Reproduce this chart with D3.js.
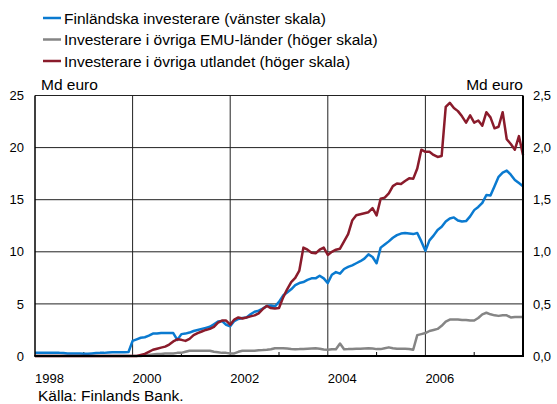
<!DOCTYPE html>
<html>
  <head>
    <meta charset="utf-8">
    <title>Investerare</title>
    <script src="https://d3js.org/d3.v7.min.js"></script>
    <style>
      body { margin: 0; background: #fff; }
      svg { display: block; }
      text { font-family: "Liberation Sans", Arial, sans-serif; fill: #000; }
      .tick text, .year { font-size: 13px; }
      .legend text, .unit, .source { font-size: 15.5px; }
      .grid line { stroke: #222; stroke-width: 1; }
      .series { fill: none; stroke-width: 2.5; stroke-linejoin: round; }
    </style>
  </head>
  <body>
    <svg id="chart" width="557" height="404"></svg>
    <script>
      // data: monthly, Jan 1998 .. Jan 2008
      startYear = 1998;
      // Finnish investors, left scale (Md euro)
      finnish = [
        0.3, 0.3, 0.3, 0.3, 0.3, 0.3, 0.3, 0.28, 0.25, 0.25, 0.25, 0.25,
        0.22, 0.22, 0.25, 0.28, 0.3, 0.3, 0.33, 0.35, 0.35, 0.35, 0.35, 0.38,
        1.45, 1.6, 1.75, 1.8, 1.95, 2.15, 2.15, 2.2, 2.2, 2.2, 2.2, 1.55,
        2.1, 2.15, 2.25, 2.4, 2.5, 2.6, 2.7, 2.8, 3.05, 3.3, 3.35, 3.0,
        2.85, 3.35, 3.55, 3.65, 3.7, 4.0, 4.25, 4.35, 4.55, 4.8, 4.85, 4.75,
        5.2, 5.8, 6.1, 6.4, 6.8, 7.0, 7.1, 7.3, 7.45, 7.45, 7.7, 7.45,
        7.0, 7.8, 8.05, 7.9, 8.35, 8.55, 8.7, 8.9, 9.1, 9.35, 9.75, 9.5,
        8.9, 10.4, 10.7, 11.0, 11.35, 11.6, 11.75, 11.8, 11.75, 11.7, 11.8, 11.0,
        10.1, 11.1, 11.55, 12.1, 12.4, 12.9, 13.2, 13.3, 13.0, 12.9, 12.95, 13.4,
        14.0, 14.3, 14.7, 15.45, 15.4, 16.3, 17.2, 17.6, 17.8, 17.4, 16.9, 16.6,
        16.3
      ];
      // investors in other EMU countries, right scale
      emu = [
        0, 0, 0, 0, 0, 0, 0, 0, 0, 0, 0, 0,
        0, 0, 0, 0, 0, 0, 0, 0, 0, 0, 0, 0,
        0, 0, 0, 0.005, 0.01, 0.015, 0.02, 0.02, 0.025, 0.025, 0.025, 0.03,
        0.03, 0.04, 0.05, 0.05, 0.05, 0.05, 0.05, 0.05, 0.04, 0.035, 0.03, 0.03,
        0.025, 0.025, 0.04, 0.05, 0.05, 0.05, 0.05, 0.055, 0.057, 0.06, 0.065, 0.075,
        0.075, 0.075, 0.072, 0.068, 0.065, 0.066, 0.068, 0.07, 0.072, 0.074, 0.07, 0.062,
        0.06, 0.065, 0.065, 0.12, 0.065, 0.066, 0.068, 0.07, 0.07, 0.072, 0.074, 0.072,
        0.066, 0.066, 0.075, 0.083, 0.075, 0.07, 0.07, 0.07, 0.068, 0.06, 0.2, 0.21,
        0.22, 0.24, 0.25, 0.26, 0.29, 0.33, 0.35, 0.35, 0.35, 0.345, 0.345, 0.34,
        0.34, 0.365, 0.4, 0.415, 0.4, 0.39, 0.385, 0.39, 0.39, 0.37, 0.375, 0.375,
        0.375
      ];
      // investors in rest of world, right scale
      abroad = [
        0, 0, 0, 0, 0, 0, 0, 0, 0, 0, 0, 0,
        0, 0, 0, 0, 0, 0, 0, 0, 0, 0, 0, 0,
        0, 0, 0.01, 0.02, 0.04, 0.06, 0.07, 0.08, 0.09, 0.11, 0.14, 0.16,
        0.155, 0.145, 0.165, 0.2, 0.22, 0.235, 0.25, 0.26, 0.28, 0.32, 0.34, 0.34,
        0.3, 0.35, 0.37, 0.36, 0.37, 0.38, 0.39, 0.41, 0.45, 0.48, 0.46, 0.455,
        0.46, 0.56, 0.64, 0.71, 0.75, 0.82, 1.04, 1.02, 0.99, 0.985, 1.02, 1.04,
        0.97, 1.0, 1.02, 1.03, 1.1, 1.17, 1.3, 1.35, 1.36, 1.37, 1.38, 1.42,
        1.35, 1.51, 1.52, 1.56, 1.63, 1.655, 1.65, 1.68, 1.705, 1.7, 1.8, 1.98,
        1.96, 1.96, 1.93, 1.91, 1.92, 2.39, 2.43, 2.38, 2.35, 2.3, 2.24, 2.31,
        2.24, 2.26, 2.21, 2.34, 2.29, 2.185, 2.2, 2.34, 2.08, 2.035, 1.98, 2.11,
        1.93
      ];
      leftTicks = [0, 5, 10, 15, 20, 25];
      rightTicks = [0, 0.5, 1, 1.5, 2, 2.5];
      yearLabels = [1998, 2000, 2002, 2004, 2006];
      gridYears = [2000, 2002, 2004, 2006];
      minorYears = [1999, 2001, 2003, 2005, 2007];
      legendItems = [
        "Finländska investerare (vänster skala)",
        "Investerare i övriga EMU-länder (höger skala)",
        "Investerare i övriga utlandet (höger skala)"
      ];
      colors = ["#0a7ad0", "#858585", "#8a1b2b"];

      chart = d3.select("#chart");
      margin = { top: 95.5, right: 34, bottom: 48, left: 35 };
      width = 557;
      height = 404;

      x = d3.scaleLinear()
        .domain([1998, 2008])
        .range([margin.left, width - margin.right]);
      yLeft = d3.scaleLinear()
        .domain([0, 25])
        .range([height - margin.bottom, margin.top]);
      yRight = d3.scaleLinear()
        .domain([0, 2.5])
        .range([height - margin.bottom, margin.top]);

      // grid
      grid = chart.append("g").attr("class", "grid");
      grid.selectAll(".h")
        .data(leftTicks.slice(1))
        .enter().append("line")
          .attr("x1", x(1998)).attr("x2", x(2008))
          .attr("y1", function(d) { return yLeft(d); })
          .attr("y2", function(d) { return yLeft(d); });
      grid.selectAll(".v")
        .data(gridYears)
        .enter().append("line")
          .attr("x1", function(d) { return x(d); })
          .attr("x2", function(d) { return x(d); })
          .attr("y1", yLeft(0)).attr("y2", yLeft(25));

      // minor year ticks
      chart.append("g").selectAll("line")
        .data(minorYears)
        .enter().append("line")
          .attr("x1", function(d) { return x(d); })
          .attr("x2", function(d) { return x(d); })
          .attr("y1", yLeft(0)).attr("y2", yLeft(0) - 4)
          .attr("stroke", "#000");

      // axes
      leftAxis = d3.axisLeft(yLeft)
        .tickValues(leftTicks)
        .tickSize(0)
        .tickPadding(11);
      rightAxis = d3.axisRight(yRight)
        .tickValues(rightTicks)
        .tickSize(0)
        .tickPadding(10)
        .tickFormat(function(d) { return d3.format(".1f")(d).replace(".", ","); });
      chart.append("g")
        .attr("transform", "translate(" + margin.left + ",0)")
        .call(leftAxis);
      chart.append("g")
        .attr("transform", "translate(" + (width - margin.right) + ",0)")
        .call(rightAxis);
      chart.selectAll(".domain").remove();

      // bottom year labels, left aligned at year
      chart.append("g").selectAll("text")
        .data(yearLabels)
        .enter().append("text")
          .attr("class", "year")
          .attr("x", function(d) { return x(d); })
          .attr("y", yLeft(0) + 27)
          .text(function(d) { return d; });

      // series
      line = function(scale) {
        return d3.line()
          .x(function(d, i) { return x(startYear + i / 12); })
          .y(function(d) { return scale(d); });
      };
      chart.append("path").attr("class", "series")
        .attr("stroke", colors[1]).attr("d", line(yRight)(emu));
      chart.append("path").attr("class", "series")
        .attr("stroke", colors[0]).attr("d", line(yLeft)(finnish));
      chart.append("path").attr("class", "series")
        .attr("stroke", colors[2]).attr("d", line(yRight)(abroad));

      // frame
      frame = chart.append("g").attr("stroke", "#000").attr("fill", "none");
      frame.append("line")
        .attr("x1", x(1998)).attr("x2", x(1998))
        .attr("y1", yLeft(25)).attr("y2", yLeft(0)).attr("stroke-width", 1.5);
      frame.append("line")
        .attr("x1", x(2008)).attr("x2", x(2008))
        .attr("y1", yLeft(25)).attr("y2", yLeft(0)).attr("stroke-width", 2);
      frame.append("line")
        .attr("x1", x(1998) - 0.75).attr("x2", x(2008) + 1)
        .attr("y1", yLeft(0)).attr("y2", yLeft(0)).attr("stroke-width", 2);

      // units
      chart.append("text").attr("class", "unit")
        .attr("x", x(1998) + 6).attr("y", yLeft(25) - 6)
        .text("Md euro");
      chart.append("text").attr("class", "unit")
        .attr("x", x(2008)).attr("y", yLeft(25) - 6)
        .attr("text-anchor", "end")
        .text("Md euro");

      // legend
      legend = chart.append("g").attr("class", "legend");
      rows = legend.selectAll("g")
        .data(legendItems)
        .enter().append("g")
          .attr("transform", function(d, i) { return "translate(43," + (18 + i * 21.5) + ")"; });
      rows.append("line")
        .attr("x1", 0).attr("x2", 18)
        .attr("stroke-width", 2.5)
        .attr("stroke", function(d, i) { return colors[i]; });
      rows.append("text")
        .attr("x", 21).attr("y", 5.5)
        .text(function(d) { return d; });

      chart.append("text").attr("class", "source")
        .attr("x", 38).attr("y", 401)
        .text("Källa: Finlands Bank.");
    </script>
  </body>
</html>
